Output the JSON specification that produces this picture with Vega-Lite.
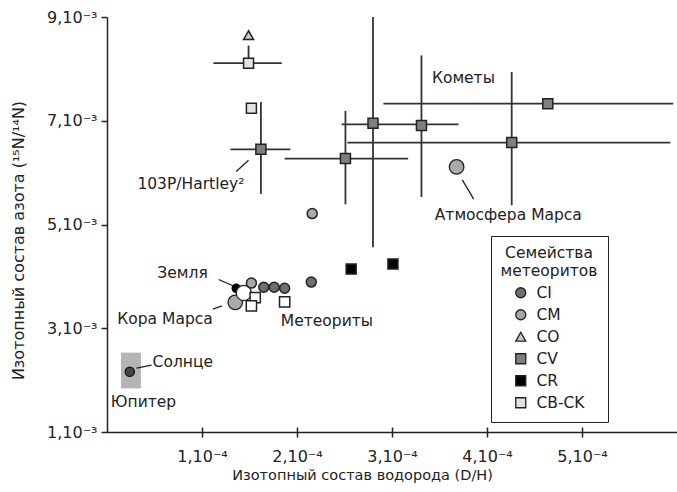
{
  "$schema": "https://vega.github.io/schema/vega-lite/v6.json",
  "width": 570,
  "height": 415,
  "autosize": "none",
  "padding": {"left": 107, "top": 17, "right": 0, "bottom": 60},
  "background": "white",
  "config": {
    "view": {"stroke": null},
    "font": "DejaVu Sans",
    "axis": {
      "grid": false,
      "domainColor": "#222",
      "tickColor": "#222",
      "labelColor": "#222",
      "titleColor": "#222",
      "labelFont": "DejaVu Sans",
      "titleFont": "DejaVu Sans",
      "labelFontSize": 16,
      "titleFontSize": 14.5,
      "titleFontWeight": "normal",
      "domainWidth": 1.5,
      "tickWidth": 1.5
    }
  },
  "datasets": {
    "meteorites": [
      {"family": "CI", "x": 1.65, "y": 3.79},
      {"family": "CI", "x": 1.76, "y": 3.79},
      {"family": "CI", "x": 1.87, "y": 3.77},
      {"family": "CI", "x": 2.15, "y": 3.89},
      {"family": "CM", "x": 1.52, "y": 3.87},
      {"family": "CM", "x": 2.16, "y": 5.21},
      {"family": "CO", "x": 1.49, "y": 8.65},
      {"family": "CV", "x": 1.62, "y": 6.45},
      {"family": "CV", "x": 2.51, "y": 6.27},
      {"family": "CV", "x": 2.80, "y": 6.95},
      {"family": "CV", "x": 3.31, "y": 6.91},
      {"family": "CV", "x": 4.26, "y": 6.58},
      {"family": "CV", "x": 4.64, "y": 7.33},
      {"family": "CR", "x": 2.57, "y": 4.14},
      {"family": "CR", "x": 3.01, "y": 4.24},
      {"family": "CB-CK", "x": 1.49, "y": 8.11},
      {"family": "CB-CK", "x": 1.52, "y": 7.24}
    ],
    "whiteSquares": [
      {"x": 1.56, "y": 3.59},
      {"x": 1.52, "y": 3.43},
      {"x": 1.87, "y": 3.51}
    ],
    "hbars": [
      {"x1": 1.12, "x2": 1.84, "y": 8.11},
      {"x1": 1.30, "x2": 1.93, "y": 6.45},
      {"x1": 1.87, "x2": 3.17, "y": 6.27},
      {"x1": 2.47, "x2": 3.70, "y": 6.93},
      {"x1": 2.91, "x2": 5.96, "y": 7.33},
      {"x1": 2.53, "x2": 5.93, "y": 6.58}
    ],
    "vbars": [
      {"x": 1.49, "y1": 8.11, "y2": 8.45},
      {"x": 1.62, "y1": 5.59, "y2": 7.36},
      {"x": 2.51, "y1": 5.39, "y2": 7.19},
      {"x": 2.80, "y1": 4.56, "y2": 9.0},
      {"x": 3.31, "y1": 5.53, "y2": 8.26},
      {"x": 4.26, "y1": 5.37, "y2": 7.94}
    ],
    "leaders": [
      {"x1": 1.36, "y1": 6.02, "x2": 1.49, "y2": 6.24},
      {"x1": 3.74, "y1": 5.86, "x2": 3.86, "y2": 5.49},
      {"x1": 1.175, "y1": 3.94, "x2": 1.35, "y2": 3.80},
      {"x1": 1.115, "y1": 3.37, "x2": 1.21, "y2": 3.43},
      {"x1": 0.31, "y1": 2.23, "x2": 0.47, "y2": 2.29}
    ],
    "labels": [
      {"text": "Кометы", "x": 3.42, "y": 7.82},
      {"text": "Атмосфера Марса", "x": 3.45, "y": 5.18},
      {"text": "103P/Hartley²", "x": 0.32, "y": 5.78},
      {"text": "Земля", "x": 0.53, "y": 4.06},
      {"text": "Кора Марса", "x": 0.108, "y": 3.18},
      {"text": "Метеориты", "x": 1.83, "y": 3.14},
      {"text": "Солнце", "x": 0.48, "y": 2.34},
      {"text": "Юпитер", "x": 0.04, "y": 1.58}
    ],
    "jupiter": [
      {"x1": 0.147, "x2": 0.357, "y1": 1.84, "y2": 2.53}
    ],
    "grayBig": [
      {"name": "Кора Марса", "x": 1.35, "y": 3.50},
      {"name": "Атмосфера Марса", "x": 3.68, "y": 6.11}
    ],
    "earth": [
      {"name": "Земля", "x": 1.36, "y": 3.77}
    ],
    "whiteBig": [
      {"x": 1.44, "y": 3.68}
    ],
    "sun": [
      {"name": "Солнце", "x": 0.24, "y": 2.16}
    ]
  },
  "layer": [
    {
      "layer": [
        {
          "data": {"name": "jupiter"},
          "mark": {"type": "rect", "color": "#b5b5b5"},
          "encoding": {
            "x": {
              "field": "x1", "type": "quantitative",
              "scale": {"domain": [0, 6], "nice": false},
              "axis": {
                "values": [1, 2, 3, 4, 5],
                "labelExpr": "datum.value + ',10⁻⁴'",
                "ticks": false,
                "labelPadding": 16,
                "labelBaseline": "top",
                "title": "Изотопный состав водорода (D/H)",
                "titleX": 255,
                "titleY": 43,
                "titleAlign": "center",
                "titleBaseline": "middle"
              }
            },
            "x2": {"field": "x2"},
            "y": {
              "field": "y1", "type": "quantitative",
              "scale": {"domain": [1, 9], "nice": false},
              "axis": {
                "values": [1, 3, 5, 7, 9],
                "labelExpr": "datum.value + ',10⁻³'",
                "tickSize": 6,
                "labelPadding": 4,
                "title": "Изотопный состав азота (¹⁵N/¹⁴N)",
                "titleFontSize": 16,
                "titleX": -89,
                "titleY": 223,
                "titleAngle": 270,
                "titleAlign": "center",
                "titleBaseline": "middle"
              }
            },
            "y2": {"field": "y2"}
          }
        },
        {
          "mark": {"type": "rule", "color": "#222", "strokeWidth": 1.5},
          "encoding": {"y": {"datum": 9, "type": "quantitative"}}
        },
        {
          "data": {"name": "hbars"},
          "mark": {"type": "rule", "color": "#333", "strokeWidth": 1.8},
          "encoding": {
            "x": {"field": "x1", "type": "quantitative"},
            "x2": {"field": "x2"},
            "y": {"field": "y", "type": "quantitative"}
          }
        },
        {
          "data": {"name": "vbars"},
          "mark": {"type": "rule", "color": "#333", "strokeWidth": 1.8},
          "encoding": {
            "x": {"field": "x", "type": "quantitative"},
            "y": {"field": "y1", "type": "quantitative"},
            "y2": {"field": "y2"}
          }
        },
        {
          "data": {"name": "leaders"},
          "mark": {"type": "rule", "color": "#222", "strokeWidth": 1.3},
          "encoding": {
            "x": {"field": "x1", "type": "quantitative"},
            "x2": {"field": "x2"},
            "y": {"field": "y1", "type": "quantitative"},
            "y2": {"field": "y2"}
          }
        },
        {
          "data": {"name": "grayBig"},
          "mark": {"type": "point", "shape": "circle", "filled": true, "fill": "#aaaaaa", "stroke": "#222", "strokeWidth": 1.3, "size": 210, "opacity": 1},
          "encoding": {
            "x": {"field": "x", "type": "quantitative"},
            "y": {"field": "y", "type": "quantitative"}
          }
        },
        {
          "data": {"name": "earth"},
          "mark": {"type": "point", "shape": "circle", "filled": true, "fill": "#000", "stroke": "#000", "size": 55, "opacity": 1},
          "encoding": {
            "x": {"field": "x", "type": "quantitative"},
            "y": {"field": "y", "type": "quantitative"}
          }
        },
        {
          "data": {"name": "sun"},
          "mark": {"type": "point", "shape": "circle", "filled": true, "fill": "#444", "stroke": "#111", "strokeWidth": 1.3, "size": 85, "opacity": 1},
          "encoding": {
            "x": {"field": "x", "type": "quantitative"},
            "y": {"field": "y", "type": "quantitative"}
          }
        },
        {
          "data": {"name": "meteorites"},
          "mark": {"type": "point", "filled": true, "stroke": "#222", "strokeWidth": 1.5, "opacity": 1},
          "encoding": {
            "x": {"field": "x", "type": "quantitative"},
            "y": {"field": "y", "type": "quantitative"},
            "shape": {
              "field": "family", "type": "nominal",
              "scale": {"domain": ["CI", "CM", "CO", "CV", "CR", "CB-CK"], "range": ["circle", "circle", "triangle-up", "square", "square", "square"]},
              "legend": {
                "title": ["Семейства", "метеоритов"],
                "orient": "none",
                "legendX": 384,
                "legendY": 219,
                "strokeColor": "#222",
                "fillColor": "white",
                "padding": 10,
                "titleFontSize": 15.5,
                "titleFontWeight": "normal",
                "titleColor": "#222",
                "titleFont": "DejaVu Sans",
                "titleAnchor": "middle",
                "titleAlign": "center",
                "labelFont": "DejaVu Sans",
                "labelFontSize": 15.5,
                "labelColor": "#222",
                "symbolStrokeColor": "#222",
                "symbolStrokeWidth": 1.3,
                "rowPadding": 5,
                "titlePadding": 6,
                "labelOffset": 8
              }
            },
            "fill": {
              "field": "family", "type": "nominal",
              "scale": {"domain": ["CI", "CM", "CO", "CV", "CR", "CB-CK"], "range": ["#6e6e6e", "#a8a8a8", "#c8c8c8", "#7f7f7f", "#000000", "#e2e2e2"]},
              "legend": {"title": ["Семейства", "метеоритов"]}
            },
            "size": {
              "field": "family", "type": "nominal",
              "scale": {"domain": ["CI", "CM", "CO", "CV", "CR", "CB-CK"], "range": [100, 100, 130, 200, 125, 100]},
              "legend": {"title": ["Семейства", "метеоритов"]}
            }
          }
        },
        {
          "data": {"name": "whiteBig"},
          "mark": {"type": "point", "shape": "circle", "filled": true, "fill": "white", "stroke": "#222", "strokeWidth": 1.3, "size": 230, "opacity": 1},
          "encoding": {
            "x": {"field": "x", "type": "quantitative"},
            "y": {"field": "y", "type": "quantitative"}
          }
        },
        {
          "data": {"name": "whiteSquares"},
          "mark": {"type": "point", "shape": "square", "filled": true, "fill": "white", "stroke": "#222", "strokeWidth": 1.5, "size": 105, "opacity": 1},
          "encoding": {
            "x": {"field": "x", "type": "quantitative"},
            "y": {"field": "y", "type": "quantitative"}
          }
        },
        {
          "data": {"name": "labels"},
          "mark": {"type": "text", "align": "left", "baseline": "middle", "fontSize": 15.5, "font": "DejaVu Sans", "color": "#222"},
          "encoding": {
            "x": {"field": "x", "type": "quantitative"},
            "y": {"field": "y", "type": "quantitative"},
            "text": {"field": "text"}
          }
        }
      ]
    },
    {
      "data": {"name": "jupiter"},
      "mark": {"type": "rect", "opacity": 0},
      "encoding": {
        "x": {
          "field": "x1", "type": "quantitative",
          "scale": {"domain": [0, 6], "nice": false},
          "axis": {"orient": "bottom", "values": [1, 2, 3, 4, 5], "offset": -5, "tickSize": 10, "domain": false, "labels": false, "title": null}
        },
        "x2": {"field": "x2"},
        "y": {"field": "y1", "type": "quantitative"},
        "y2": {"field": "y2"}
      }
    }
  ],
  "resolve": {"axis": {"x": "independent"}}
}
